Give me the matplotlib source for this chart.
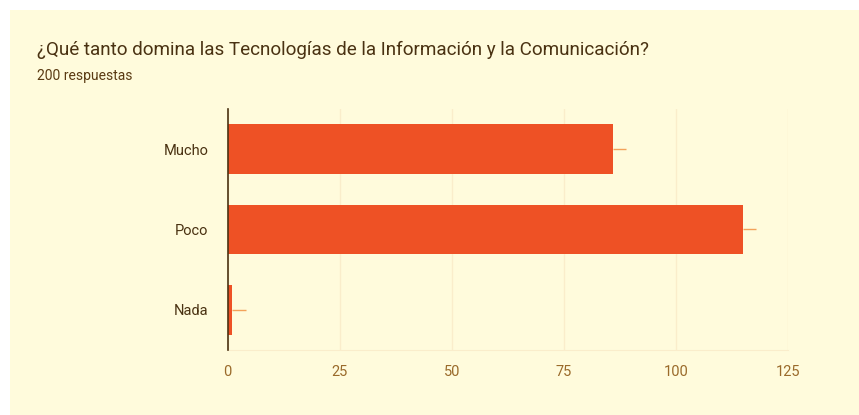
import matplotlib.pyplot as plt
from matplotlib.patches import Rectangle

categories = ["Mucho", "Poco", "Nada"]
counts = [86, 115, 1]
whisker = [3, 3, 3]
xticks = [0, 25, 50, 75, 100, 125]

title = "¿Qué tanto domina las Tecnologías de la Información y la Comunicación?"
subtitle = "200 respuestas"

W, H = 859, 415
fig = plt.figure(figsize=(W / 100, H / 100), dpi=100)
fig.patch.set_facecolor("white")
plt.rcParams["font.family"] = ["Roboto", "DejaVu Sans"]

# panel behind everything
fig.patches.append(Rectangle((10 / W, 0), 1 - 10 / W, 1 - 10 / H, transform=fig.transFigure,
                             facecolor="#fffbdc", edgecolor="none", zorder=-5))

fig.text(37 / W, 1 - 50 / H, title, fontsize=13.6, color="#4a3212", va="center", ha="left")
fig.text(37 / W, 1 - 76 / H, subtitle, fontsize=10, color="#5a3a12", va="center", ha="left")

ax = fig.add_axes([227.7 / W, 1 - 350 / H, 560 / W, 241 / H])
ax.set_facecolor("none")

y = list(range(len(categories)))
ax.barh(y, counts, height=0.62, color="#ee5125", zorder=3)
ax.errorbar(counts, y, xerr=[[0] * len(counts), whisker], fmt="none",
            ecolor="#f3a25a", elinewidth=1, capsize=0, zorder=2)

ax.set_xlim(0, 125)
ax.set_ylim(len(categories) - 0.5, -0.5)
ax.set_yticks(y)
ax.set_yticklabels(categories, fontsize=10.5, color="#4a3212")
ax.set_xticks(xticks)
ax.set_xticklabels([str(t) for t in xticks], fontsize=10.5, color="#9a6a2a")
ax.tick_params(axis="x", length=0, pad=11)
ax.tick_params(axis="y", length=0, pad=14)

ax.grid(axis="x", color="#faedcb", linewidth=1, zorder=0)
for s in ["top", "right"]:
    ax.spines[s].set_visible(False)
ax.spines["bottom"].set_color("#faedcb")
ax.spines["left"].set_color("#4a3212")
ax.spines["left"].set_linewidth(1.2)
ax.spines["left"].set_zorder(4)

fig.savefig("out.png", dpi=100, facecolor=fig.get_facecolor())
